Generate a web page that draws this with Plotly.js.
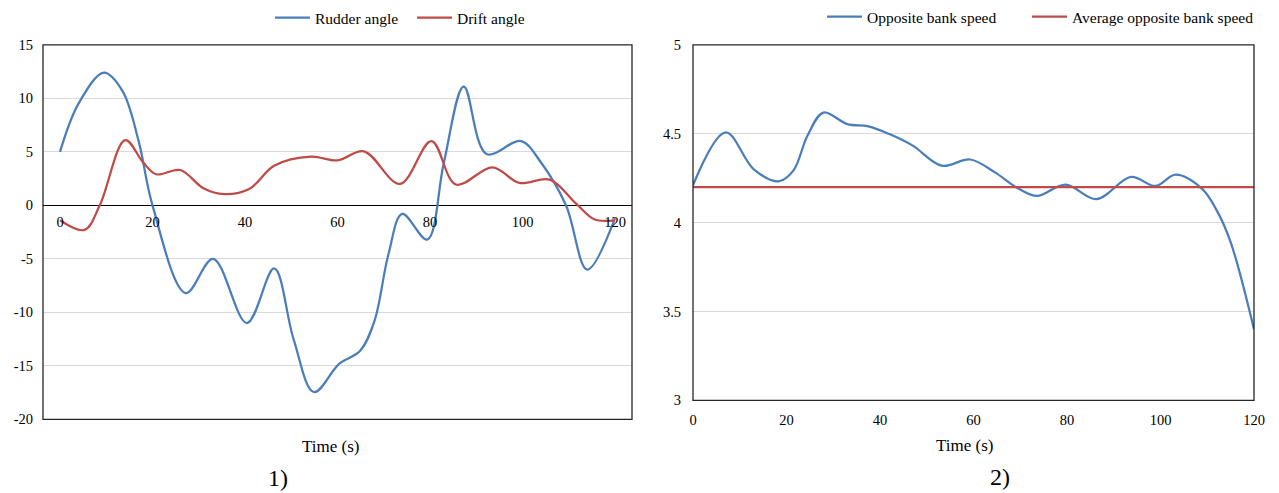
<!DOCTYPE html>
<html>
<head>
<meta charset="utf-8">
<script src="https://cdn.plot.ly/plotly-3.0.1.min.js"></script>
<style>html,body{margin:0;padding:0;background:#fff;}#chart{width:1279px;height:493px;}</style>
</head>
<body>
<div id="chart"></div>
<script>
// ---- data ----
const rudderTime = [0, 4, 9.5, 13.5, 17, 20, 27.2, 33.1, 40.4, 46.3, 50.5, 54.9, 60.4, 64.9, 68, 71, 74, 79.4, 83, 87.3, 92.2, 99.7, 104, 109.4, 114, 120];
const rudderAngle = [5, 9.5, 12.4, 10.7, 6, 0, -8.2, -5, -11, -5.9, -12.5, -17.45, -14.8, -13.6, -10.8, -4.6, -0.8, -3.2, 4, 11.1, 4.8, 6, 4, 0, -6, -1.2];

const driftTime = [0, 5.3, 8.6, 14.1, 18, 20.8, 26, 31, 35.5, 41, 46.3, 54.3, 60, 65.7, 73.5, 80.3, 85.6, 93.5, 99.3, 105.9, 111.6, 115.5, 120];
const driftAngle = [-1.4, -2.3, 0, 6.1, 4, 2.9, 3.3, 1.6, 1.05, 1.55, 3.7, 4.55, 4.2, 5.05, 2.0, 6.0, 1.95, 3.55, 2.1, 2.4, 0.15, -1.3, -1.4];

const speedTime = [0, 7, 13, 18.3, 21.5, 24.5, 27.9, 33, 37.5, 42, 47, 53.2, 59.3, 64.5, 69.7, 73.6, 79.7, 86.3, 93.7, 98.9, 103.3, 108.9, 112, 115, 120];
const speedValue = [4.21, 4.507, 4.3, 4.232, 4.294, 4.49, 4.619, 4.554, 4.541, 4.498, 4.433, 4.32, 4.355, 4.284, 4.19, 4.15, 4.214, 4.132, 4.257, 4.206, 4.27, 4.19, 4.07, 3.89, 3.40];

const avgTime = [0, 120];
const avgSpeed = [4.2, 4.2];

const timeTicks = [0, 20, 40, 60, 80, 100, 120];
const angleTicks = [15, 10, 5, 0, -5, -10, -15, -20];
const angleTickLabels = ['15', '10', '5', '0', '-5', '-10', '-15', '-20'];
const speedTicks = [3, 3.5, 4, 4.5, 5];
const speedTickLabels = ['3', '3.5', '4', '4.5', '5'];

// ---- styling ----
const W = 1279, H = 493;
const px = v => v / W, py = v => 1 - v / H;
const BLUE = '#4a7ebb', RED = '#be4b48';
const FONT = 'Liberation Serif, Times New Roman, serif';

const traces = [
  {x: rudderTime, y: rudderAngle, name: 'Rudder angle', type: 'scatter', mode: 'lines',
   line: {color: BLUE, width: 2.25, shape: 'spline', smoothing: 1}, xaxis: 'x', yaxis: 'y', legend: 'legend'},
  {x: driftTime, y: driftAngle, name: 'Drift angle', type: 'scatter', mode: 'lines',
   line: {color: RED, width: 2.25, shape: 'spline', smoothing: 1}, xaxis: 'x', yaxis: 'y', legend: 'legend2'},
  {x: speedTime, y: speedValue, name: 'Opposite bank speed', type: 'scatter', mode: 'lines',
   line: {color: BLUE, width: 2.25, shape: 'spline', smoothing: 1}, xaxis: 'x2', yaxis: 'y2', legend: 'legend3'},
  {x: avgTime, y: avgSpeed, name: 'Average opposite bank speed', type: 'scatter', mode: 'lines',
   line: {color: RED, width: 2.25}, xaxis: 'x2', yaxis: 'y2', legend: 'legend4'}
];

const tickFont = {family: FONT, size: 14.5, color: '#000'};
const legFont = {family: FONT, size: 15.5, color: '#000'};
const leg = (x, y) => ({orientation: 'h', x: px(x), y: py(y), xanchor: 'left', yanchor: 'middle',
  font: legFont, bgcolor: 'rgba(0,0,0,0)', itemwidth: 35});

const layout = {
  width: W, height: H,
  margin: {l: 0, r: 0, t: 0, b: 0},
  paper_bgcolor: '#fff', plot_bgcolor: '#fff',
  font: {family: FONT, size: 14, color: '#000'},
  showlegend: true,
  xaxis: {
    domain: [px(43), px(632)],
    range: [-17 / 4.625, 120 + 17 / 4.625],
    anchor: 'free', position: py(204),
    tickvals: timeTicks, ticks: '', showgrid: false, zeroline: false,
    showline: false, tickfont: tickFont, ticklabelstandoff: 6
  },
  yaxis: {
    domain: [py(419), py(43)],
    range: [-20, 15],
    tickvals: angleTicks, ticktext: angleTickLabels,
    ticks: '', showgrid: true, gridcolor: '#d9d9d9', gridwidth: 1,
    zeroline: true, zerolinecolor: '#000', zerolinewidth: 1,
    showline: false, tickfont: tickFont, ticklabelstandoff: 9
  },
  xaxis2: {
    domain: [px(693), px(1254)],
    range: [0, 120], anchor: 'y2',
    tickvals: timeTicks, ticks: '', showgrid: false, zeroline: false,
    showline: false, tickfont: tickFont, ticklabelstandoff: 9
  },
  yaxis2: {
    domain: [py(400), py(43)],
    range: [3, 5], anchor: 'x2',
    tickvals: speedTicks, ticktext: speedTickLabels,
    ticks: '', showgrid: true, gridcolor: '#d9d9d9', gridwidth: 1,
    zeroline: false, showline: false, tickfont: tickFont, ticklabelstandoff: 11
  },
  legend: leg(270, 16),
  legend2: leg(412, 16),
  legend3: leg(822, 15),
  legend4: leg(1027, 15),
  shapes: [
    {type: 'rect', xref: 'x domain', yref: 'y domain', x0: 0, x1: 1, y0: 0, y1: 1,
     line: {color: '#262626', width: 1.3}, fillcolor: 'rgba(0,0,0,0)', layer: 'above'},
    {type: 'rect', xref: 'x2 domain', yref: 'y2 domain', x0: 0, x1: 1, y0: 0, y1: 1,
     line: {color: '#262626', width: 1.3}, fillcolor: 'rgba(0,0,0,0)', layer: 'above'}
  ],
  annotations: [
    {text: 'Time (s)', xref: 'paper', yref: 'paper', x: px(330), y: py(446), showarrow: false,
     xanchor: 'center', yanchor: 'middle', font: {family: FONT, size: 17, color: '#000'}},
    {text: '1)', xref: 'paper', yref: 'paper', x: px(278), y: py(478), showarrow: false,
     xanchor: 'center', yanchor: 'middle', font: {family: FONT, size: 24, color: '#000'}},
    {text: 'Time (s)', xref: 'paper', yref: 'paper', x: px(964), y: py(445), showarrow: false,
     xanchor: 'center', yanchor: 'middle', font: {family: FONT, size: 17, color: '#000'}},
    {text: '2)', xref: 'paper', yref: 'paper', x: px(1000), y: py(477), showarrow: false,
     xanchor: 'center', yanchor: 'middle', font: {family: FONT, size: 24, color: '#000'}}
  ]
};

Plotly.newPlot('chart', traces, layout, {staticPlot: true, displayModeBar: false});
</script>
</body>
</html>
